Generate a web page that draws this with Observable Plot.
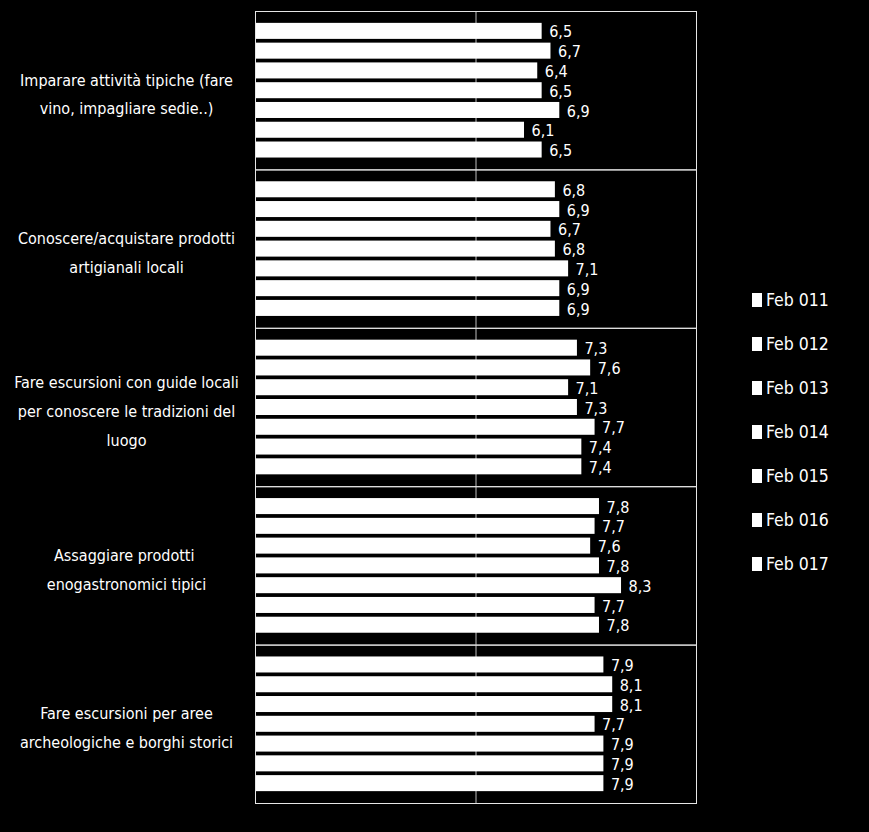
<!DOCTYPE html>
<html>
<head>
<meta charset="utf-8">
<script src="https://cdn.jsdelivr.net/npm/d3@7"></script>
<script src="https://cdn.jsdelivr.net/npm/@observablehq/plot@0.6"></script>
<style>
  html, body { margin: 0; padding: 0; background: #000; }
  #wrap { position: relative; width: 869px; height: 832px; background: #000; overflow: hidden;
          font-family: "Liberation Sans Narrow", "DejaVu Sans Condensed", "Arial Narrow", sans-serif; }
  #legend { position: absolute; left: 752px; top: 289px; color: #fff; font-size: 17.5px; }
  #legend .item { display: flex; align-items: center; height: 22px; margin-bottom: 22px; }
  #legend .sw { width: 10px; height: 14px; background: #fff; margin-right: 4px; }
</style>
</head>
<body>
<div id="wrap"><div id="chart"></div><div id="legend"></div></div>
<script>
const series = ["Feb 011", "Feb 012", "Feb 013", "Feb 014", "Feb 015", "Feb 016", "Feb 017"];
const categories = ["Imparare", "Conoscere", "Guide", "Assaggiare", "Archeologiche"];
const categoryLabels = [
  "Imparare attività tipiche (fare\nvino, impagliare sedie..)",
  "Conoscere/acquistare prodotti\nartigianali locali",
  "Fare escursioni con guide locali\nper conoscere le tradizioni del\nluogo",
  "Assaggiare prodotti \nenogastronomici tipici",
  "Fare escursioni per aree\narcheologiche e borghi storici"
];
const imparare      = [6.5, 6.7, 6.4, 6.5, 6.9, 6.1, 6.5];
const conoscere     = [6.8, 6.9, 6.7, 6.8, 7.1, 6.9, 6.9];
const guide         = [7.3, 7.6, 7.1, 7.3, 7.7, 7.4, 7.4];
const assaggiare    = [7.8, 7.7, 7.6, 7.8, 8.3, 7.7, 7.8];
const archeologiche = [7.9, 8.1, 8.1, 7.7, 7.9, 7.9, 7.9];
const valuesByCategory = [imparare, conoscere, guide, assaggiare, archeologiche];

const rows = categories.flatMap((c, i) =>
  series.map((s, j) => ({category: c, series: s, value: valuesByCategory[i][j]})));

const font = '"Liberation Sans Narrow", "DejaVu Sans Condensed", "Arial Narrow", sans-serif';

const chart = Plot.plot({
  width: 869,
  height: 832,
  marginLeft: 255,
  marginRight: 173,
  marginTop: 11,
  marginBottom: 29,
  style: {background: "#000", color: "#fff", fontFamily: font, fontSize: "16px"},
  x: {domain: [0, 10], axis: null},
  y: {domain: series, axis: null, paddingInner: 0.19, paddingOuter: 0.6, round: false},
  fy: {domain: categories, axis: null, padding: 0, round: false},
  marks: [
    Plot.ruleX([5], {stroke: "#bdbdbd", strokeWidth: 1}),
    Plot.barX(rows, {x: "value", y: "series", fy: "category", fill: "#fff"}),
    Plot.text(rows, {
      x: "value", y: "series", fy: "category",
      text: d => d.value.toFixed(1).replace(".", ","),
      textAnchor: "start", dx: 7, dy: 1, fill: "#fff", fontSize: 16
    }),
    Plot.text(categories, {
      fy: d => d,
      text: (d, i) => categoryLabels[i],
      frameAnchor: "left", dx: -129, textAnchor: "middle",
      lineHeight: 1.8, fill: "#fff", fontSize: 16
    }),
    Plot.frame({stroke: "#e6e6e6", strokeWidth: 1})
  ]
});
document.getElementById("chart").appendChild(chart);

const legend = document.getElementById("legend");
series.forEach(s => {
  const item = document.createElement("div");
  item.className = "item";
  const sw = document.createElement("span");
  sw.className = "sw";
  const t = document.createElement("span");
  t.textContent = s;
  item.appendChild(sw);
  item.appendChild(t);
  legend.appendChild(item);
});
</script>
</body>
</html>
